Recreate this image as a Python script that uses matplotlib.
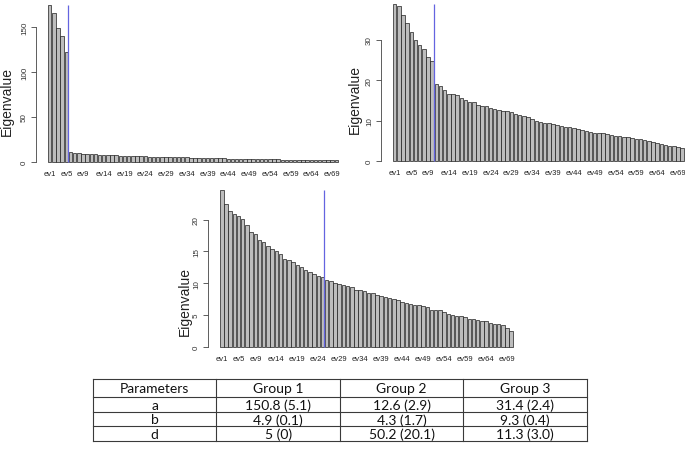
import matplotlib
matplotlib.use("Agg")
import matplotlib.pyplot as plt

plt.rcParams['font.family'] = ['Liberation Sans', 'DejaVu Sans']

W, H = 685, 456

# ---------------- data ----------------
categories = ["ev%d" % i for i in range(1, 71)]
shown_labels = ["ev1", "ev5", "ev9", "ev14", "ev19", "ev24", "ev29", "ev34",
                "ev39", "ev44", "ev49", "ev54", "ev59", "ev64", "ev69"]

eig_group1 = [175.0, 165.5, 149.5, 140.5, 123.0,
              10.5, 9.7, 9.3, 8.9, 8.6, 8.3, 8.1, 7.9, 7.7, 7.5,
              7.3, 7.1, 6.9, 6.8, 6.6, 6.4, 6.3, 6.1, 6.0, 5.8,
              5.7, 5.6, 5.5, 5.3, 5.2, 5.1, 5.0, 4.9, 4.8, 4.6,
              4.5, 4.4, 4.3, 4.2, 4.1, 3.9, 3.8, 3.7, 3.6, 3.5,
              3.4, 3.3, 3.2, 3.1, 3.0, 2.9, 2.8, 2.7, 2.6, 2.5,
              2.5, 2.4, 2.3, 2.2, 2.2, 2.1, 2.0, 1.9, 1.9, 1.8,
              1.7, 1.7, 1.6, 1.5, 1.4]
eig_group2 = [38.9, 38.5, 36.3, 34.2, 32.1, 30.1, 28.8, 27.8, 25.7, 24.9,
              19.1, 18.5, 17.6, 16.7, 16.6, 16.3, 15.7, 15.2, 14.7, 14.5,
              13.9, 13.7, 13.5, 13.2, 12.8, 12.6, 12.4, 12.3, 12.0, 11.7,
              11.4, 11.0, 10.9,
              10.4, 9.9, 9.7, 9.5, 9.3, 9.2, 9.0, 8.7, 8.5, 8.3,
              8.2, 7.9, 7.6, 7.4, 7.2, 7.0, 7.0, 6.9, 6.6, 6.5,
              6.2, 6.1, 6.0, 5.8, 5.6, 5.4, 5.3, 5.2, 5.0, 4.7,
              4.4, 4.1, 3.9, 3.7, 3.6, 3.3, 3.1]
eig_group3 = [24.6, 22.5, 21.3, 20.9, 20.5, 20.1, 19.1, 18.0, 17.7, 16.8,
              16.5, 15.9, 15.4, 15.0, 14.6, 13.8, 13.6, 13.3, 12.9, 12.6,
              12.0, 11.7, 11.4, 11.2, 10.9,
              10.5, 10.3, 10.0, 9.9, 9.7, 9.5, 9.4,
              9.0, 8.9, 8.7, 8.5, 8.4, 8.2, 8.0, 7.9, 7.7, 7.5,
              7.3, 7.0, 6.9, 6.8, 6.6, 6.5, 6.4, 6.2, 5.8, 5.8,
              5.7, 5.4, 5.1, 5.0, 4.9, 4.8, 4.6, 4.4, 4.3, 4.2,
              4.1, 4.0, 3.8, 3.6, 3.5, 3.4, 3.0, 2.5]
cutoffs = [5, 10, 25]
yticks_list = [[0, 50, 100, 150], [0, 10, 20, 30], [0, 5, 10, 15, 20]]

table_cols = ["Parameters", "Group 1", "Group 2", "Group 3"]
table_rows = [["a", "150.8 (5.1)", "12.6 (2.9)", "31.4 (2.4)"],
              ["b", "4.9 (0.1)", "4.3 (1.7)", "9.3 (0.4)"],
              ["d", "5 (0)", "50.2 (20.1)", "11.3 (3.0)"]]

# ---------------- figure ----------------
fig = plt.figure(figsize=(W / 100, H / 100), dpi=100)


def rect(l, t, r, b):
    return [l / W, 1 - b / H, (r - l) / W, (b - t) / H]


def panel(vals, cutoff, yticks, box, ylab_x, ylab_y):
    ax = fig.add_axes(rect(*box))
    n = len(vals)
    xs = [0.7 + 1.2 * i for i in range(n)]
    ax.bar(xs, vals, width=1.0, color='#bdbdbd', edgecolor='#1e1e1e',
           linewidth=0.5)
    lo, hi = 0.2, 1.2 * n
    pad = 0.04 * (hi - lo)
    ax.set_xlim(lo - pad, hi + pad)
    M = max(vals)
    ax.set_ylim(-0.04 * M, 1.04 * M)
    ax.vlines(1.2 * cutoff, 0, M, color='#6464e0', lw=0.9, zorder=3)
    for s in ['top', 'right', 'bottom']:
        ax.spines[s].set_visible(False)
    ax.spines['left'].set_bounds(yticks[0], yticks[-1])
    ax.spines['left'].set_color('#444444')
    ax.spines['left'].set_linewidth(0.6)
    ax.set_yticks(yticks)
    ax.set_yticklabels([str(t) for t in yticks], rotation=90, va='center',
                       fontsize=5.8, color='#333333')
    ax.tick_params(axis='y', length=3.5, width=0.6, color='#444444', pad=2.5)
    pos = [xs[categories.index(l)] for l in shown_labels]
    ax.set_xticks(pos)
    ax.set_xticklabels(shown_labels, fontsize=5.5, color='#222222')
    ax.tick_params(axis='x', length=0, pad=1.5)
    ax.patch.set_alpha(0)
    fig.text(ylab_x / W, 1 - ylab_y / H, "Eigenvalue", rotation=90,
             ha='center', va='center', fontsize=10, color='#222222')
    return ax


panel(eig_group1, cutoffs[0], yticks_list[0], (36.4, -0.3, 349.6, 169.0), 7, 101)
panel(eig_group2, cutoffs[1], yticks_list[1], (381.3, -1.05, 695.6, 168.0), 355, 100)
panel(eig_group3, cutoffs[2], yticks_list[2], (208.3, 185.2, 524.7, 353.95), 185, 302)

# ---------------- table ----------------
tax = fig.add_axes([0, 0, 1, 1])
tax.set_xlim(0, W)
tax.set_ylim(H, 0)
tax.axis('off')
col_edges = [93, 216.5, 340, 463.5, 587]
row_edges = [379.5, 398.5, 413, 427.5, 442]
lc = '#3a3a3a'
for x in col_edges:
    tax.plot([x, x], [row_edges[0], row_edges[-1]], color=lc, lw=0.8)
for y in row_edges:
    tax.plot([col_edges[0], col_edges[-1]], [y, y], color=lc, lw=0.8)
all_rows = [table_cols] + table_rows
for r, row in enumerate(all_rows):
    yc = (row_edges[r] + row_edges[r + 1]) / 2
    for c, txt in enumerate(row):
        xc = (col_edges[c] + col_edges[c + 1]) / 2
        tax.text(xc, yc, txt, ha='center', va='center', fontsize=10,
                 family=['Lato', 'DejaVu Sans'], color='#111111')

fig.savefig("out.png", dpi=100)
